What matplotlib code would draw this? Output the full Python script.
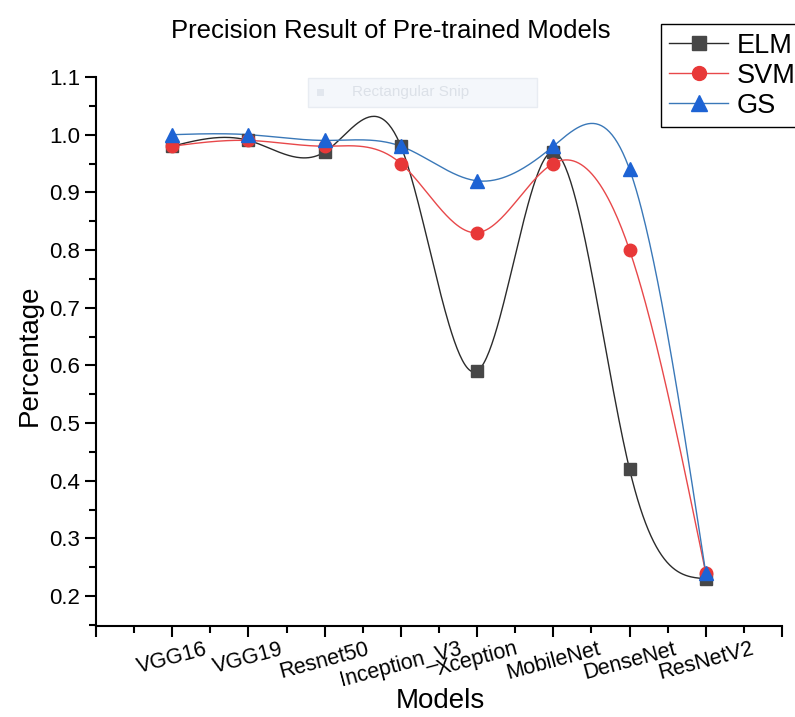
import numpy as np
import matplotlib
matplotlib.use("Agg")
import matplotlib.pyplot as plt
from matplotlib.ticker import MultipleLocator
from matplotlib.patches import Rectangle

plt.rcParams['font.family'] = ['Liberation Sans', 'DejaVu Sans']

models = ['VGG16', 'VGG19', 'Resnet50', 'Inception_V3', 'Xception',
          'MobileNet', 'DenseNet', 'ResNetV2']
elm = [0.98, 0.99, 0.97, 0.98, 0.59, 0.97, 0.42, 0.23]
svm = [0.98, 0.99, 0.98, 0.95, 0.83, 0.95, 0.80, 0.24]
gs = [1.00, 1.00, 0.99, 0.98, 0.92, 0.98, 0.94, 0.24]


def natural_spline(x, y, n=400):
    # natural cubic spline, like Origin's spline connect
    x = np.asarray(x, float)
    y = np.asarray(y, float)
    k = len(x)
    h = np.diff(x)
    A = np.zeros((k, k))
    b = np.zeros(k)
    A[0, 0] = 1
    A[-1, -1] = 1
    for i in range(1, k - 1):
        A[i, i - 1] = h[i - 1]
        A[i, i] = 2 * (h[i - 1] + h[i])
        A[i, i + 1] = h[i]
        b[i] = 6 * ((y[i + 1] - y[i]) / h[i] - (y[i] - y[i - 1]) / h[i - 1])
    M = np.linalg.solve(A, b)
    xs = np.linspace(x[0], x[-1], n)
    idx = np.clip(np.searchsorted(x, xs) - 1, 0, k - 2)
    x0, x1 = x[idx], x[idx + 1]
    hh = x1 - x0
    t0, t1 = x1 - xs, xs - x0
    ys = (M[idx] * t0 ** 3 + M[idx + 1] * t1 ** 3) / (6 * hh) \
        + (y[idx] / hh - M[idx] * hh / 6) * t0 \
        + (y[idx + 1] / hh - M[idx + 1] * hh / 6) * t1
    return xs, ys


fig = plt.figure(figsize=(7.95, 7.17), dpi=100)
ax = fig.add_axes([0.1208, 0.1269, 0.8628, 0.7657])

pos = np.arange(1, len(models) + 1)
series = [
    ('ELM', elm, '#2b2b2b', '#474747', 's', 8.5),
    ('SVM', svm, '#e8484a', '#e83838', 'o', 9),
    ('GS', gs, '#3a78b8', '#1d63d4', '^', 10),
]
for name, vals, lc, mc, mk, ms in series:
    xs, ys = natural_spline(pos, vals)
    ax.plot(xs, ys, color=lc, lw=1.0, zorder=2)
    ax.plot(pos, vals, linestyle='none', marker=mk, color=mc, ms=ms, zorder=3)
    ax.plot([], [], color=lc, lw=1.0, marker=mk, mfc=mc, mec=mc, ms=ms + 1, label=name)

ax.set_xlim(0, 9)
ax.set_ylim(0.148, 1.1)
ax.set_xticks(np.arange(0, 10))
ax.set_xticklabels([''] + models + [''], rotation=15, fontsize=15.5)
ax.xaxis.set_minor_locator(MultipleLocator(0.5))
ax.yaxis.set_minor_locator(MultipleLocator(0.05))
ax.set_yticks(np.arange(0.2, 1.11, 0.1))
ax.set_yticklabels(['%.1f' % v for v in np.arange(0.2, 1.11, 0.1)], fontsize=16)
ax.tick_params(which='major', direction='out', length=8, width=1.5)
ax.tick_params(which='minor', direction='out', length=5, width=1.5)
ax.tick_params(axis='x', pad=1)

for s in ['top', 'right']:
    ax.spines[s].set_visible(False)
for s in ['left', 'bottom']:
    ax.spines[s].set_linewidth(1.5)

ax.set_xlabel('Models', fontsize=20, va='center')
ax.xaxis.set_label_coords(0.502, -0.137)
ax.set_ylabel('Percentage', fontsize=20, va='center')
ax.yaxis.set_label_coords(-0.096, 0.494)
fig.text(0.492, 0.957, 'Precision Result of Pre-trained Models', ha='center',
         va='center', fontsize=18.5)

# faint leftover of a screen snip in the source picture
fig.patches.append(Rectangle((0.387, 0.851), 0.288, 0.040, transform=fig.transFigure,
                             fc='#f4f7fb', ec='#e8ecf2', lw=1))
fig.patches.append(Rectangle((0.399, 0.866), 0.009, 0.010, transform=fig.transFigure,
                             fc='#e2e7ee', ec='none'))
fig.text(0.443, 0.871, 'Rectangular Snip', fontsize=11, color='#dce1e8',
         va='center')

fig.legend(loc='upper left', bbox_to_anchor=(0.831, 0.966), fontsize=19.5,
           frameon=True, fancybox=False, edgecolor='black', framealpha=1,
           handlelength=2.2, borderpad=0.3, labelspacing=0.15,
           handletextpad=0.3, borderaxespad=0)

fig.savefig('out.png', dpi=100)
